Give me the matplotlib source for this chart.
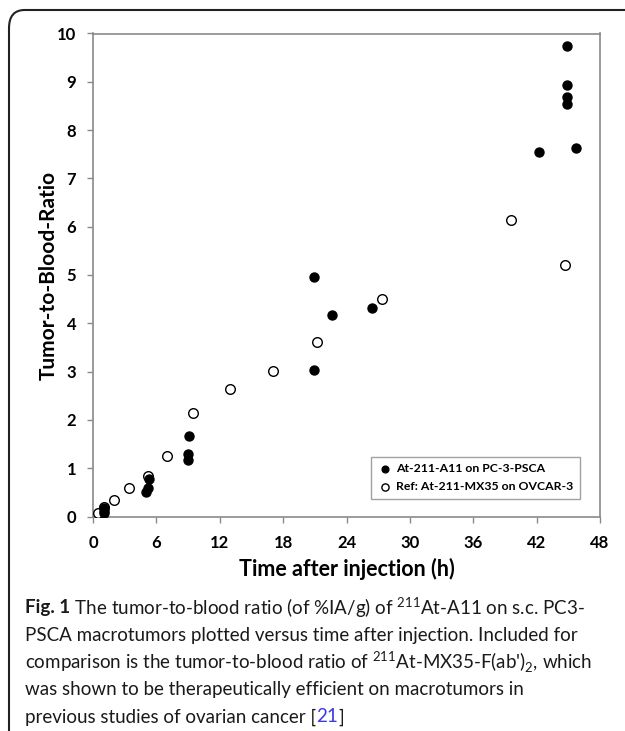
import matplotlib
matplotlib.use('Agg')
import matplotlib.pyplot as plt
from matplotlib.patches import FancyBboxPatch

# At-211-A11 on PC-3-PSCA (filled)
a11_time = [1.0, 1.0, 1.05, 4.98, 5.2, 5.27, 8.97, 8.97, 9.09, 20.9, 20.9, 22.6, 26.4,
            42.2, 44.9, 44.9, 44.9, 44.9, 45.7]
a11_ratio = [0.08, 0.12, 0.17, 0.51, 0.59, 0.77, 1.16, 1.30, 1.66, 3.03, 4.95, 4.17, 4.32,
             7.55, 8.55, 8.68, 8.93, 9.75, 7.63]

# Ref: At-211-MX35 on OVCAR-3 (open)
mx35_time = [0.5, 1.0, 2.0, 3.44, 5.17, 6.97, 9.43, 12.94, 17.0, 21.2, 27.4, 39.6, 44.7]
mx35_ratio = [0.08, 0.2, 0.35, 0.58, 0.84, 1.26, 2.15, 2.63, 3.02, 3.62, 4.51, 6.14, 5.20]

x_ticks = [0, 6, 12, 18, 24, 30, 36, 42, 48]
y_ticks = list(range(0, 11))

plt.rcParams['font.family'] = ['Lato', 'DejaVu Sans']
plt.rcParams['mathtext.fontset'] = 'custom'
plt.rcParams['mathtext.rm'] = 'Lato'
plt.rcParams['mathtext.bf'] = 'Lato:bold'

fig = plt.figure(figsize=(6.25, 7.31), dpi=100)
W, H = 625.0, 731.0

# rounded frame (top + left edges only visible)
frame = FancyBboxPatch((9 / W, -0.05), 1.2, 1 - 10 / H + 0.05,
                       boxstyle='round,pad=0,rounding_size=0.025',
                       transform=fig.transFigure, fill=False, ec='#222222', lw=1.5,
                       clip_on=False)
fig.patches.append(frame)

ax = fig.add_axes([93 / W, 1 - 516.5 / H, (600 - 93) / W, (516.5 - 33.5) / H])

ax.scatter(mx35_time, mx35_ratio, s=48, facecolors='white', edgecolors='black',
           linewidths=1.0, label='Ref: At-211-MX35 on OVCAR-3', zorder=3)
ax.scatter(a11_time, a11_ratio, s=42, color='black',
           label='At-211-A11 on PC-3-PSCA', zorder=4)

ax.set_xlim(0, 48)
ax.set_ylim(0, 10)
ax.set_xticks(x_ticks)
ax.set_yticks(y_ticks)
for s in ax.spines.values():
    s.set_color('#8a8a8a')
    s.set_linewidth(1.2)
ax.tick_params(color='#8a8a8a', length=4, width=1, direction='out', labelsize=12)
for lab in ax.get_xticklabels() + ax.get_yticklabels():
    lab.set_fontweight('bold')
ax.tick_params(axis='x', pad=9)
ax.tick_params(axis='y', pad=8)

ax.set_xlabel('Time after injection (h)', fontsize=15.5, fontweight='bold', labelpad=5)
ax.set_ylabel('Tumor-to-Blood-Ratio', fontsize=15, fontweight='bold', labelpad=-1)

handles, labels = ax.get_legend_handles_labels()
leg = ax.legend(handles[::-1], labels[::-1], loc='lower right', frameon=True,
                fancybox=False, edgecolor='#8a8a8a', prop={'weight': 'bold', 'size': 8.8},
                handletextpad=0.3, borderpad=0.55, labelspacing=0.55,
                bbox_to_anchor=(0.972, 0.024), handlelength=1.2, markerscale=0.75)
leg.get_frame().set_linewidth(1.0)

# caption
cap_size = 13.5
cap_color = '#1a1a1a'
first = fig.text(25 / W, 1 - 608 / H, 'Fig. 1', fontsize=cap_size, fontweight='bold',
                 color=cap_color, va='center')
ax.annotate(r' The tumor-to-blood ratio (of %IA/g) of $^{211}$At-A11 on s.c. PC3-',
            xy=(1, 0.5), xycoords=first, va='center', ha='left',
            fontsize=cap_size, color=cap_color, annotation_clip=False)
lines = [
    'PSCA macrotumors plotted versus time after injection. Included for',
    r"comparison is the tumor-to-blood ratio of $^{211}$At-MX35-F(ab')$_2$, which",
    'was shown to be therapeutically efficient on macrotumors in',
]
ys = [635, 662, 689]
for txt, yy in zip(lines, ys):
    fig.text(25 / W, 1 - yy / H, txt, fontsize=cap_size, color=cap_color, va='center')
t = fig.text(25 / W, 1 - 717 / H, 'previous studies of ovarian cancer [', fontsize=cap_size,
             color=cap_color, va='center')
t2 = ax.annotate('21', xy=(1, 0.5), xycoords=t, va='center', ha='left',
                 fontsize=cap_size, color='#3a3adf', annotation_clip=False)
ax.annotate(']', xy=(1, 0.5), xycoords=t2, va='center', ha='left',
            fontsize=cap_size, color=cap_color, annotation_clip=False)

fig.savefig('out.png', dpi=100)
